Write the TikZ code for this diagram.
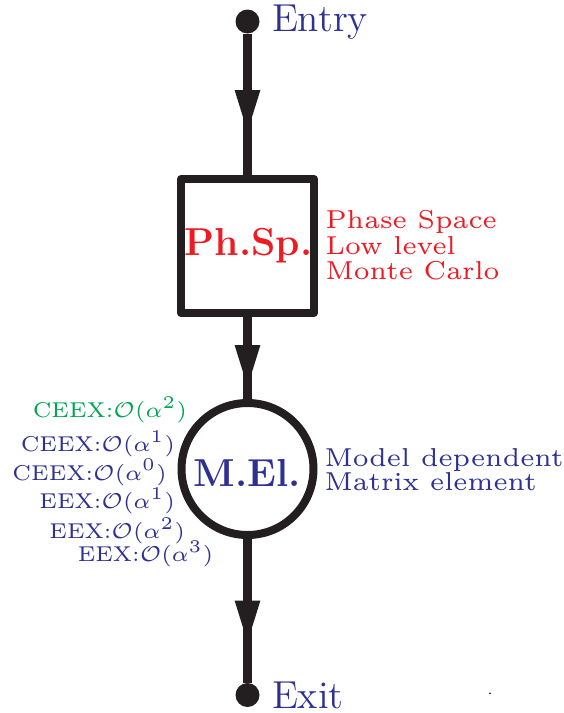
\documentclass[tikz,border=0pt]{standalone}
\usepackage{graphicx}
\usetikzlibrary{arrows.meta,decorations.markings}
\definecolor{txtblue}{RGB}{46,49,146}
\definecolor{txtred}{RGB}{237,28,36}
\definecolor{txtgreen}{RGB}{0,166,81}
\definecolor{linek}{RGB}{35,31,32}
\newcommand\bigtxt[1]{\scalebox{3.25}{\fontsize{12}{14}\selectfont #1}}
\newcommand\sidetxt[2]{\scalebox{4.32}{\fontsize{6}{#1}\selectfont\vtop{\baselineskip=#1pt\lineskiplimit=-20pt #2}}}
\newcommand\lefttxt[1]{\scalebox{3.58}{\fontsize{6}{7}\selectfont #1}}
\tikzset{
  dotnode/.style={circle, fill=linek, draw=none, minimum size=24pt, inner sep=0pt, outer sep=0pt},
  boxnode/.style={rectangle, draw=linek, line width=8pt, line join=round, minimum width=133pt, minimum height=134pt, inner sep=0pt},
  circnode/.style={circle, draw=linek, line width=8pt, minimum size=132pt, inner sep=0pt},
  txt/.style={inner sep=0pt, outer sep=0pt},
  conn/.style={draw=linek, line width=8.5pt},
  midarrow/.style={postaction={decorate}, decoration={markings, mark=at position #1 with {\arrow[linek]{Triangle[length=44pt,width=23pt]}}}}
}
\begin{document}
\begin{tikzpicture}[x=1pt,y=-1pt]
\useasboundingbox (0,0) rectangle (563,713);
% structure
\node[dotnode] (entry) at (247.5,21.5) {};
\node[boxnode] (ps) at (247.5,246) {};
\node[circnode] (me) at (247.5,469) {};
\node[dotnode] (exit) at (247.5,695) {};
% connectors
\draw[conn, midarrow=100.5pt] (entry) -- (ps);
\draw[conn, midarrow=72pt] (ps) -- (me);
\draw[conn, midarrow=105.5pt] (me) -- (exit);
% labels
\node[txt, anchor=base west, text=txtblue] (entrylbl) at (272,31.7) {\bigtxt{Entry}};
\node[txt, anchor=base west, text=txtblue] (exitlbl) at (272,708) {\bigtxt{Exit}};
\node[txt, anchor=base, text=txtred] (pslbl) at (248.5,255) {\bigtxt{\bfseries Ph.Sp.}};
\node[txt, anchor=base, text=txtblue] (melbl) at (247.5,486.7) {\bigtxt{\bfseries M.El.}};
\node[txt, anchor=base west, text=txtred] (psdesc) at (325.5,228.3) {\sidetxt{5.97}{\hbox{Phase Space}\hbox{Low level}\hbox{Monte Carlo}}};
\node[txt, anchor=base west, text=txtblue] (medesc) at (324.5,466.7) {\sidetxt{5.56}{\hbox{Model dependent}\hbox{Matrix element}}};
\node[txt, anchor=base east, text=txtgreen] (o1) at (187,417.3) {\lefttxt{CEEX:$\mathcal{O}(\alpha^2)$}};
\node[txt, anchor=base east, text=txtblue] (o2) at (175,451.7) {\lefttxt{CEEX:$\mathcal{O}(\alpha^1)$}};
\node[txt, anchor=base east, text=txtblue] (o3) at (166.7,480) {\lefttxt{CEEX:$\mathcal{O}(\alpha^0)$}};
\node[txt, anchor=base east, text=txtblue] (o4) at (175,508.3) {\lefttxt{EEX:$\mathcal{O}(\alpha^1)$}};
\node[txt, anchor=base east, text=txtblue] (o5) at (185,538.3) {\lefttxt{EEX:$\mathcal{O}(\alpha^2)$}};
\node[txt, anchor=base east, text=txtblue] (o6) at (213.3,561.7) {\lefttxt{EEX:$\mathcal{O}(\alpha^3)$}};
\node[circle, fill=linek, inner sep=0pt, minimum size=2pt] (stray) at (490,693.3) {};
\end{tikzpicture}
\end{document}
